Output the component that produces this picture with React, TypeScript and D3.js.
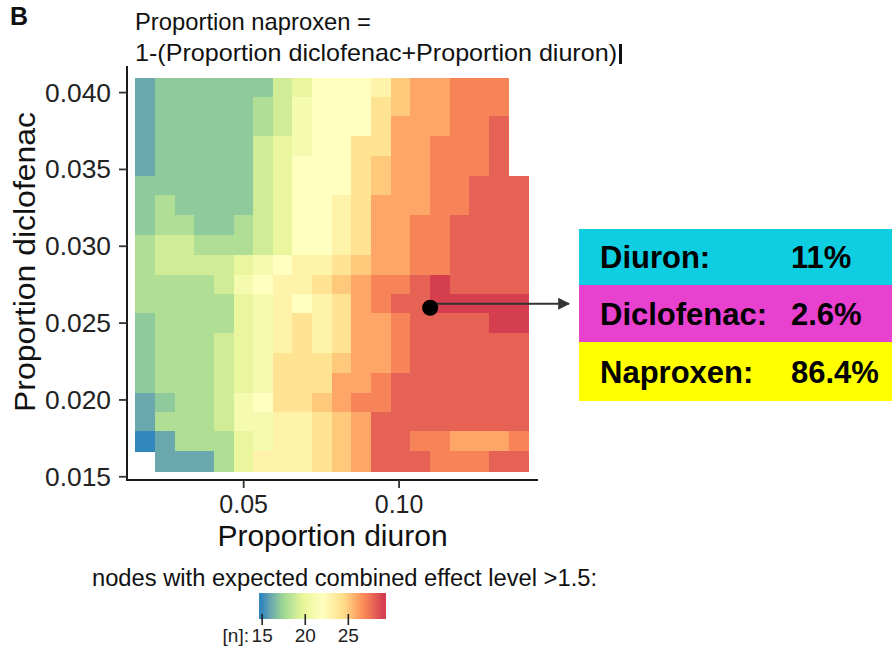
import React from "react";
import * as d3 from "d3";

// Grid of mixture nodes: proportion of diuron (columns) and diclofenac (rows, top to bottom)
const diuronLevels = [
  0.0183, 0.0246, 0.0309, 0.0373, 0.0436, 0.0499, 0.0562, 0.0625, 0.0689, 0.0752,
  0.0815, 0.0878, 0.0942, 0.1005, 0.1068, 0.1131, 0.1194, 0.1258, 0.1321, 0.1384,
];
const diclofenacLevels = [
  0.0403, 0.0391, 0.0378, 0.0365, 0.0352, 0.034, 0.0327, 0.0314, 0.0301, 0.0288,
  0.0275, 0.0263, 0.025, 0.0237, 0.0224, 0.0211, 0.0198, 0.0186, 0.0173, 0.016,
];

// Number of nodes with expected combined effect level > 1.5 (null = not evaluated)
const nodeCounts: (number | null)[][] = [
  [16, 17, 17, 17, 17, 17, 17, 19, 20, 22, 22, 22, 23, 25, 26, 26, 27, 27, 27, null],
  [16, 17, 17, 17, 17, 17, 18, 19, 21, 22, 22, 22, 24, 25, 26, 26, 27, 27, 27, null],
  [16, 17, 17, 17, 17, 17, 18, 19, 21, 22, 22, 22, 24, 26, 26, 26, 27, 27, 28, null],
  [16, 17, 17, 17, 17, 17, 19, 20, 21, 22, 22, 24, 24, 26, 26, 27, 27, 27, 28, null],
  [16, 17, 17, 17, 17, 17, 19, 20, 22, 22, 22, 24, 25, 26, 26, 27, 27, 27, 28, null],
  [17, 17, 17, 17, 17, 17, 19, 20, 22, 22, 22, 24, 25, 26, 26, 27, 27, 28, 28, 28],
  [17, 18, 17, 17, 17, 17, 19, 20, 22, 22, 23, 24, 26, 26, 26, 27, 27, 28, 28, 28],
  [17, 18, 18, 17, 17, 18, 19, 20, 22, 22, 23, 24, 26, 26, 27, 27, 28, 28, 28, 28],
  [18, 19, 19, 18, 18, 18, 19, 20, 22, 22, 23, 24, 26, 26, 27, 27, 28, 28, 28, 28],
  [18, 19, 19, 19, 19, 20, 21, 22, 23, 23, 24, 25, 26, 26, 27, 27, 28, 28, 28, 28],
  [18, 18, 18, 18, 19, 21, 22, 23, 23, 24, 25, 26, 27, 27, 28, 29, 28, 28, 28, 28],
  [18, 18, 18, 18, 18, 20, 21, 23, 22, 23, 24, 26, 27, 28, 28, 29, 29, 29, 29, 29],
  [17, 18, 18, 18, 18, 20, 21, 23, 24, 23, 24, 26, 26, 27, 28, 28, 28, 28, 29, 29],
  [17, 18, 18, 18, 19, 20, 21, 23, 24, 23, 24, 26, 26, 27, 28, 28, 28, 28, 28, 28],
  [17, 18, 18, 18, 19, 20, 21, 24, 24, 24, 25, 26, 26, 27, 28, 28, 28, 28, 28, 28],
  [17, 18, 18, 18, 19, 20, 21, 24, 24, 24, 26, 26, 27, 28, 28, 28, 28, 28, 28, 28],
  [16, 17, 18, 18, 19, 21, 22, 24, 24, 25, 26, 27, 27, 28, 28, 28, 28, 28, 28, 28],
  [16, 18, 18, 18, 19, 21, 21, 23, 23, 24, 25, 26, 28, 28, 28, 28, 28, 28, 28, 28],
  [15, 16, 18, 18, 18, 20, 21, 23, 23, 24, 25, 26, 28, 28, 27, 27, 26, 26, 26, 27],
  [null, 16, 16, 16, 18, 20, 23, 23, 23, 24, 25, 26, 28, 28, 28, 27, 27, 27, 28, 28],
];

const xTicks = [0.05, 0.1];
const xTickLabels = ["0.05", "0.10"];
const yTicks = [0.04, 0.035, 0.03, 0.025, 0.02, 0.015];
const yTickLabels = ["0.040", "0.035", "0.030", "0.025", "0.020", "0.015"];
const legendTicks = [15, 20, 25];
const spectral = ["#3288BD", "#99D594", "#E6F598", "#FFFFBF", "#FEE08B", "#FC8D59", "#D53E4F"];

// Highlighted mixture
const selectedDiuron = 0.11;
const selectedDiclofenac = 0.026;
const mixNames = ["Diuron:", "Diclofenac:", "Naproxen:"];
const mixFills = ["#10CEE1", "#E840CF", "#FFFF00"];

const W = 894;
const H = 647;
const panel = { left: 127, right: 538, top: 66, bottom: 480 };
const FONT = "'Liberation Sans', Arial, Helvetica, sans-serif";

function edgesOf(levels: number[]): number[] {
  const step = (levels[levels.length - 1] - levels[0]) / (levels.length - 1);
  const e = [levels[0] - step / 2];
  for (let i = 1; i < levels.length; i++) e.push((levels[i - 1] + levels[i]) / 2);
  e.push(levels[levels.length - 1] + step / 2);
  return e;
}

function pct(v: number): string {
  const s = (v * 100).toFixed(1);
  return (s.endsWith(".0") ? s.slice(0, -2) : s) + "%";
}

export default function App() {
  const x = d3.scaleLinear().domain([0.01245, 0.1447]).range([panel.left, panel.right]);
  const y = d3.scaleLinear().domain([0.01479, 0.04173]).range([panel.bottom, panel.top]);

  const flat = nodeCounts.flat().filter((v): v is number => v != null);
  const [vmin, vmax] = d3.extent(flat) as [number, number];
  const stops = spectral.map((_, i) => vmin + ((vmax - vmin) * i) / (spectral.length - 1));
  const color = d3
    .scaleLinear<string>()
    .domain(stops)
    .range(spectral)
    .interpolate(d3.interpolateLab);

  const xEdges = edgesOf(diuronLevels);
  // diclofenac levels run high to low; edges follow the same order
  const yEdgesAsc = edgesOf([...diclofenacLevels].reverse());
  const yEdges = [...yEdgesAsc].reverse();

  const cells: JSX.Element[] = [];
  nodeCounts.forEach((row, r) => {
    row.forEach((v, c) => {
      if (v == null) return;
      const x0 = x(xEdges[c]);
      const x1 = x(xEdges[c + 1]);
      const y0 = y(yEdges[r]);
      const y1 = y(yEdges[r + 1]);
      cells.push(
        <rect
          key={`${r}-${c}`}
          x={x0}
          y={y0}
          width={x1 - x0 + 0.4}
          height={y1 - y0 + 0.4}
          fill={color(v)}
        />
      );
    });
  });

  // colour bar
  const nbin = 20;
  const binSpan = (vmax - vmin) / (nbin - 1);
  const lg = d3
    .scaleLinear()
    .domain([vmin - binSpan / 2, vmax + binSpan / 2])
    .range([259, 386]);
  const barY = 593;
  const barH = 26;
  const gradStops = d3.range(0, 41).map((i) => {
    const v = vmin + ((vmax - vmin) * i) / 40;
    return { off: (lg(v) - lg.range()[0]) / (lg.range()[1] - lg.range()[0]), c: color(v) };
  });

  const dotX = x(selectedDiuron);
  const dotY = y(selectedDiclofenac);
  const naproxen = 1 - (selectedDiuron + selectedDiclofenac);
  const mixValues = [selectedDiuron, selectedDiclofenac, naproxen];

  const boxX = 579;
  const boxW = 313;
  const rowTops = [229, 285, 342, 401];

  return (
    <svg
      width={W}
      height={H}
      viewBox={`0 0 ${W} ${H}`}
      style={{ position: "absolute", left: 0, top: 0, background: "#fff" }}
      fontFamily={FONT}
    >
      <defs>
        <linearGradient id="barGrad" x1="0" x2="1" y1="0" y2="0">
          {gradStops.map((s, i) => (
            <stop key={i} offset={s.off} stopColor={s.c} />
          ))}
        </linearGradient>
        <marker
          id="arrowHead"
          viewBox="0 0 10 10"
          refX="9"
          refY="5"
          markerWidth="6"
          markerHeight="6"
          markerUnits="strokeWidth"
          orient="auto"
        >
          <path d="M0,0 L10,5 L0,10 z" fill="#333" />
        </marker>
      </defs>
      <rect x={0} y={0} width={W} height={H} fill="#fff" />

      {/* panel letter and title */}
      <text x={10} y={25} fontSize={25} fontWeight="bold" fill="#111">
        B
      </text>
      <text x={135} y={30} fontSize={24} fill="#111" textLength={236} lengthAdjust="spacingAndGlyphs">
        Proportion naproxen =
      </text>
      <text x={135} y={61} fontSize={24} fill="#111" textLength={482} lengthAdjust="spacingAndGlyphs">
        1-(Proportion diclofenac+Proportion diuron)
      </text>
      <rect x={619} y={44} width={3} height={20} fill="#111" />

      {/* tiles */}
      <g shapeRendering="crispEdges">{cells}</g>

      {/* axes */}
      <line x1={panel.left} x2={panel.left} y1={panel.top} y2={panel.bottom + 1} stroke="#1a1a1a" strokeWidth={2} />
      <line x1={panel.left - 1} x2={panel.right} y1={panel.bottom} y2={panel.bottom} stroke="#1a1a1a" strokeWidth={2} />
      {yTicks.map((t, i) => (
        <g key={`yt${i}`}>
          <line x1={panel.left - 8} x2={panel.left} y1={y(t)} y2={y(t)} stroke="#333" strokeWidth={1.8} />
          <text
            x={panel.left - 16}
            y={y(t)}
            dy="0.36em"
            textAnchor="end"
            fontSize={25}
            fill="#222"
            textLength={66}
            lengthAdjust="spacingAndGlyphs"
          >
            {yTickLabels[i]}
          </text>
        </g>
      ))}
      {xTicks.map((t, i) => (
        <g key={`xt${i}`}>
          <line x1={x(t)} x2={x(t)} y1={panel.bottom} y2={panel.bottom + 8} stroke="#333" strokeWidth={1.8} />
          <text x={x(t)} y={513} textAnchor="middle" fontSize={25} fill="#222">
            {xTickLabels[i]}
          </text>
        </g>
      ))}
      <text x={(panel.left + panel.right) / 2} y={546} textAnchor="middle" fontSize={30} fill="#111">
        Proportion diuron
      </text>
      <text
        transform={`translate(35, 262) rotate(-90)`}
        textAnchor="middle"
        fontSize={30}
        fill="#111"
        textLength={300}
        lengthAdjust="spacingAndGlyphs"
      >
        Proportion diclofenac
      </text>

      {/* highlighted mixture */}
      <line
        x1={dotX}
        y1={dotY - 4}
        x2={boxX - 10}
        y2={dotY - 4}
        stroke="#333"
        strokeWidth={2}
        markerEnd="url(#arrowHead)"
      />
      <circle cx={dotX} cy={dotY} r={8} fill="#000" />

      {mixNames.map((name, i) => (
        <g key={name}>
          <rect x={boxX} y={rowTops[i]} width={boxW} height={rowTops[i + 1] - rowTops[i]} fill={mixFills[i]} />
          <text x={600} y={(rowTops[i] + rowTops[i + 1]) / 2 + 11} fontSize={31} fontWeight="bold" fill="#000">
            {name}
          </text>
          <text x={791} y={(rowTops[i] + rowTops[i + 1]) / 2 + 11} fontSize={31} fontWeight="bold" fill="#000">
            {pct(mixValues[i])}
          </text>
        </g>
      ))}

      {/* legend */}
      <text
        x={597}
        y={586}
        textAnchor="end"
        fontSize={23}
        fill="#111"
        textLength={505}
        lengthAdjust="spacingAndGlyphs"
      >
        nodes with expected combined effect level &gt;1.5:
      </text>
      <rect x={lg.range()[0]} y={barY} width={lg.range()[1] - lg.range()[0]} height={barH} fill="url(#barGrad)" />
      {legendTicks.map((t) => (
        <g key={`lt${t}`}>
          <line x1={lg(t)} x2={lg(t)} y1={barY + 21} y2={barY + 32} stroke="#222" strokeWidth={1.6} />
          <text x={lg(t)} y={642} textAnchor="middle" fontSize={19} fill="#222">
            {t}
          </text>
        </g>
      ))}
      <text x={249} y={642} textAnchor="end" fontSize={19} fill="#222">
        [n]:
      </text>
    </svg>
  );
}
